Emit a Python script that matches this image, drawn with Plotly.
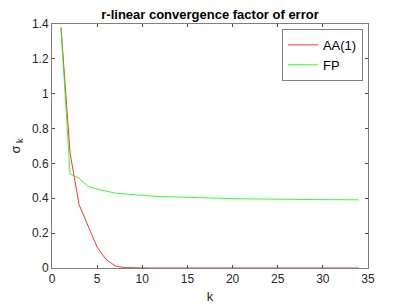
import plotly.graph_objects as go

k = list(range(1, 35))
aa1 = [1.38, 0.66, 0.363, 0.237, 0.12, 0.048, 0.012, 0.002] + [0.0] * 26
fp = [1.38, 0.54, 0.515, 0.468, 0.452, 0.44, 0.43, 0.425, 0.42, 0.417, 0.413, 0.41,
      0.408, 0.407, 0.405, 0.403, 0.401, 0.4, 0.399, 0.398, 0.397, 0.396, 0.395,
      0.395, 0.394, 0.394, 0.393, 0.393, 0.393, 0.392, 0.392, 0.392, 0.391, 0.391]
x_ticks = [0, 5, 10, 15, 20, 25, 30, 35]
y_ticks = [0, 0.2, 0.4, 0.6, 0.8, 1, 1.2, 1.4]
y_labels = ["0", "0.2", "0.4", "0.6", "0.8", "1", "1.2", "1.4"]

FONT = "Liberation Sans, Arial, sans-serif"
# page body has an 8px default margin; figure is sized so the plot lands where the reference has it
W, H = 399, 297
L, R, T, B = 44, 39, 16, 37

fig = go.Figure()
fig.add_trace(go.Scatter(x=k, y=aa1, mode="lines", name="AA(1)",
                         line=dict(color="#ff0000", width=0.8)))
fig.add_trace(go.Scatter(x=k, y=fp, mode="lines", name="FP",
                         line=dict(color="#00ff00", width=0.8)))

axis_common = dict(showgrid=False, zeroline=False, showline=True, mirror="ticks",
                   linecolor="#7f7f7f", linewidth=1, ticks="inside", ticklen=3,
                   tickcolor="#4d4d4d", tickfont=dict(family=FONT, size=12, color="#262626"))

fig.update_layout(
    width=W, height=H,
    margin=dict(l=L, r=R, t=T, b=B, autoexpand=False),
    paper_bgcolor="white", plot_bgcolor="white",
    title=dict(text="<b>r-linear convergence factor of error</b>",
               x=(L + (W - L - R) / 2) / W, xanchor="center",
               y=1 - 6 / H, yanchor="middle",
               font=dict(family=FONT, size=13, color="#000000")),
    xaxis=dict(range=[0, 35], tickvals=x_ticks, **axis_common,
               title=dict(text="k", standoff=6, font=dict(family=FONT, size=13, color="#262626"))),
    yaxis=dict(range=[0, 1.4], tickvals=y_ticks, ticktext=y_labels, **axis_common,
               title=dict(text="σ<sub> k</sub>", standoff=8, font=dict(family=FONT, size=13, color="#262626"))),
    legend=dict(x=0.984, y=0.98, xanchor="right", yanchor="top",
                bgcolor="white", bordercolor="#7f7f7f", borderwidth=1,
                font=dict(family=FONT, size=13, color="#000000"),
                tracegroupgap=0, itemwidth=30),
    showlegend=True,
)

fig.write_html("out.html")
